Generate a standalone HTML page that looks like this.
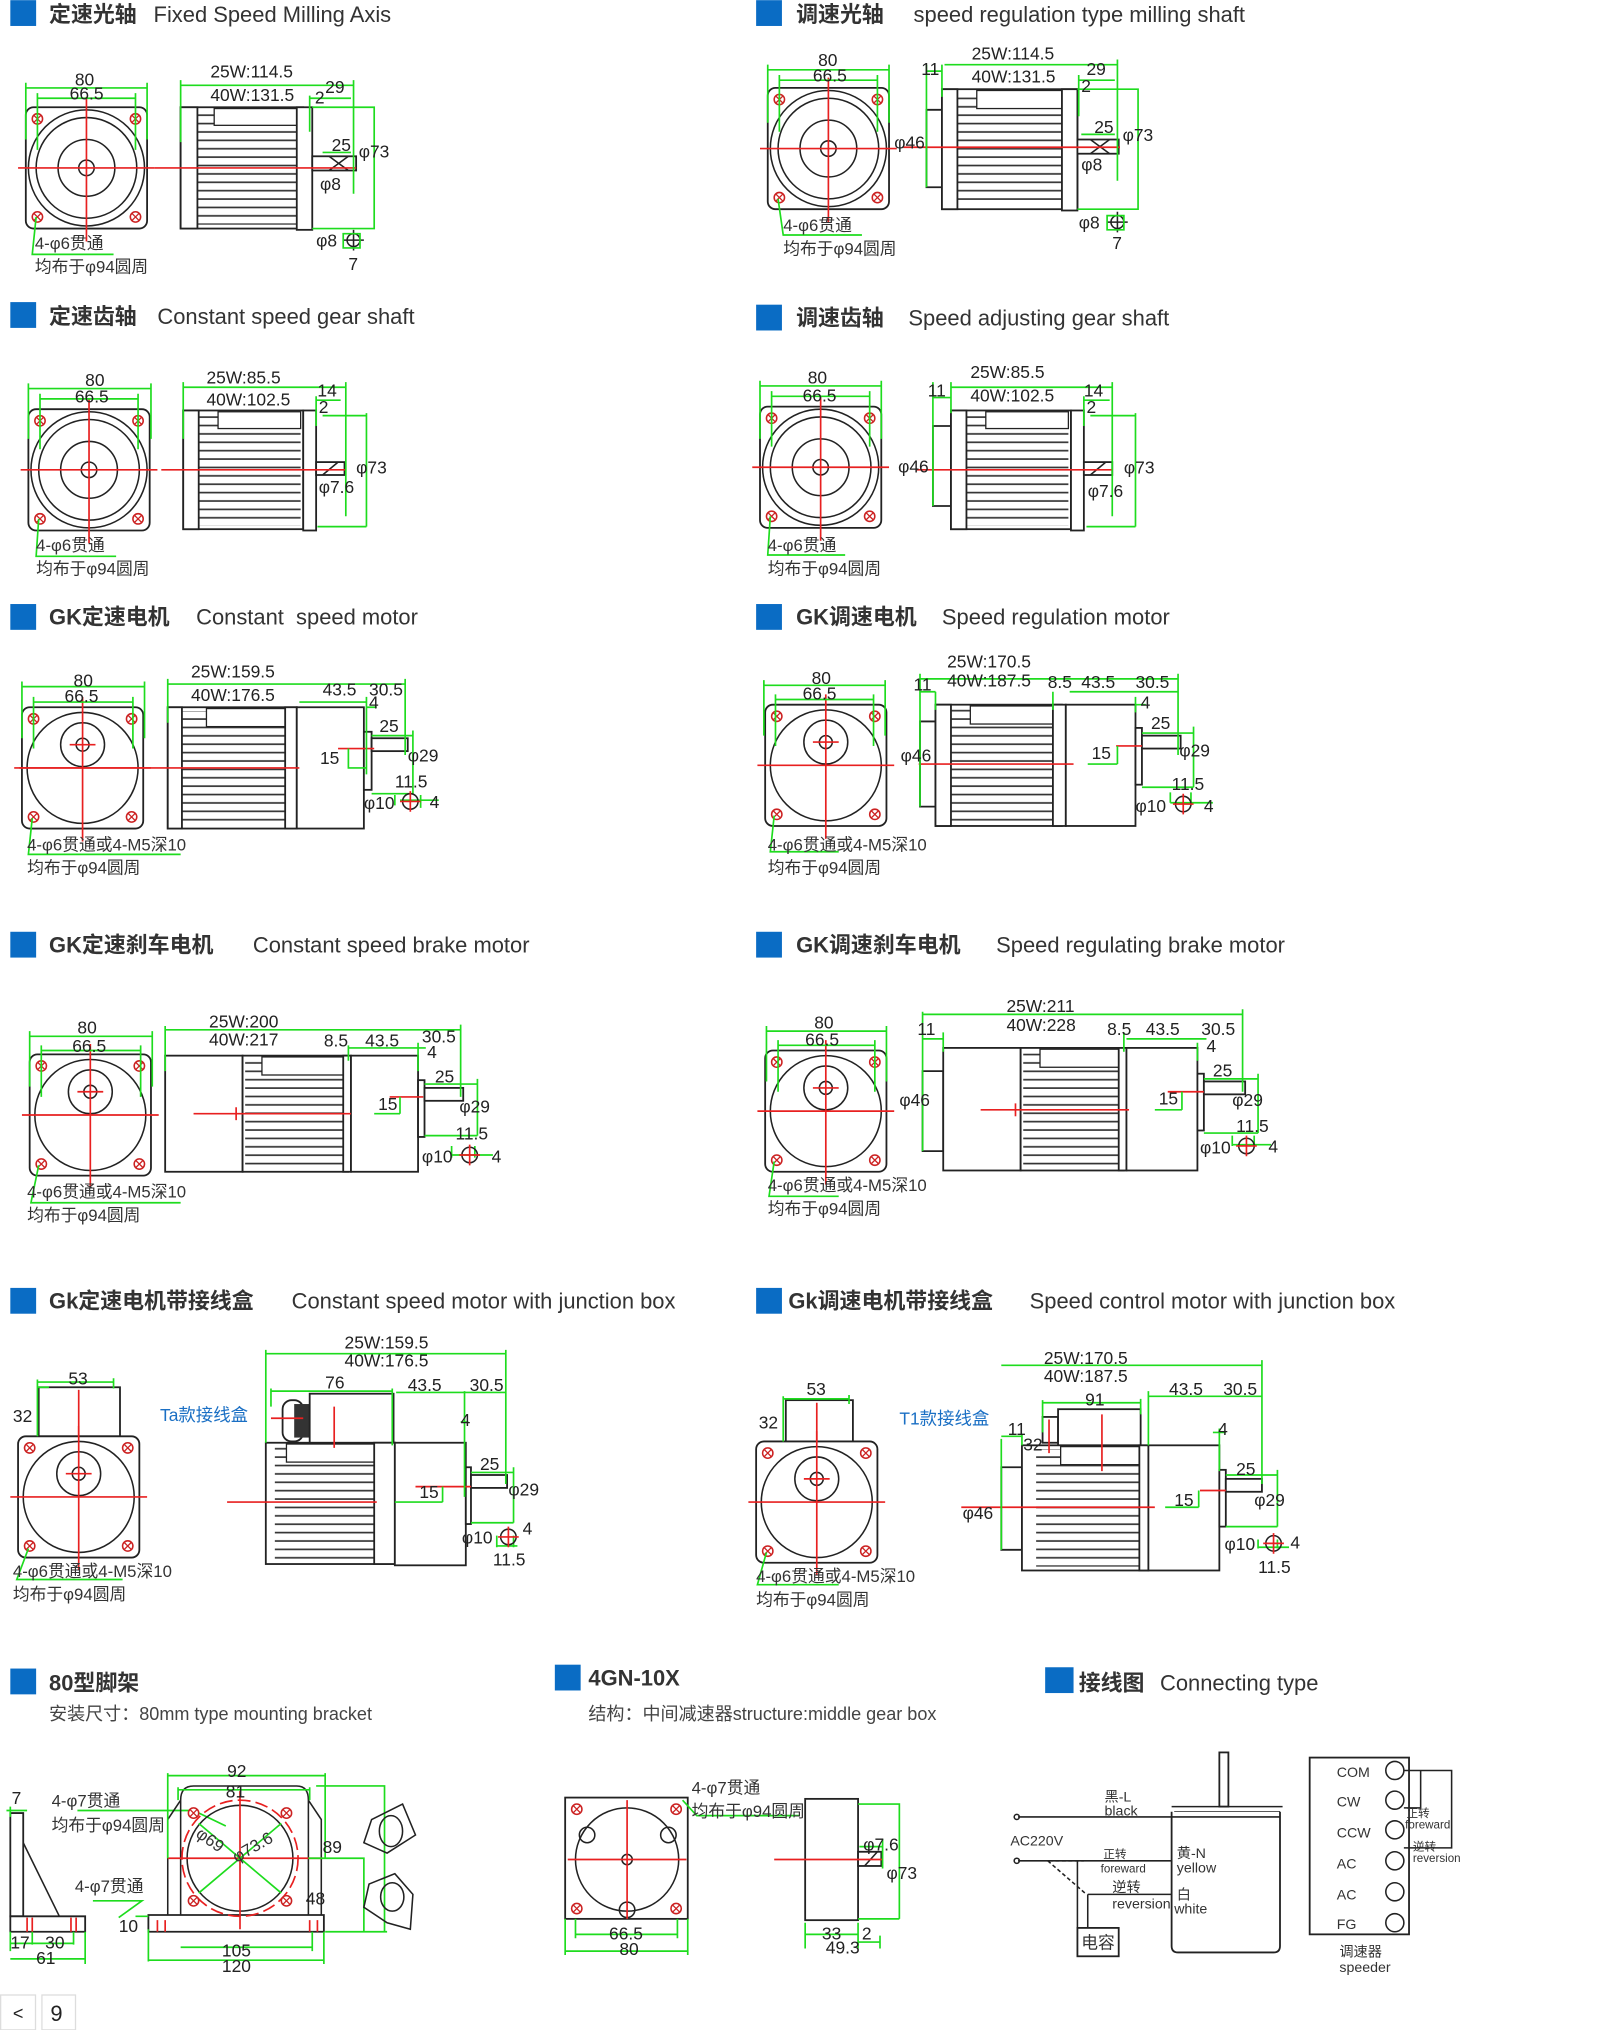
<!DOCTYPE html>
<html><head><meta charset="utf-8">
<style>
html,body{margin:0;padding:0;background:#fff;}
svg{display:block}
text{font-family:"Liberation Sans","Noto Sans CJK SC",sans-serif;fill:#222}
.t{font-size:17px;font-weight:bold;fill:#333}
.e{font-size:17px;fill:#333}
.s{font-size:14px;fill:#444}
.d{font-size:13.5px;fill:#222}
.n{font-size:13px;fill:#333}
.w{font-size:11px;fill:#333}
.g{stroke:#1edc1e;stroke-width:1.3;fill:none}
.r{stroke:#e82020;stroke-width:1.3;fill:none}
.k{stroke:#222;stroke-width:1.4;fill:#fff}
.kn{stroke:#222;stroke-width:1.2;fill:none}
</style></head><body>
<svg width="1600" height="2030" viewBox="0 0 1240 1573" xmlns="http://www.w3.org/2000/svg">
<defs>
<pattern id="fin" width="8" height="6.5" patternUnits="userSpaceOnUse"><rect width="8" height="6.5" fill="#fff"/><rect y="4" width="8" height="1.3" fill="#333"/></pattern>
<g id="hole"><circle r="4" fill="#fff" stroke="#c22" stroke-width="1.2"/><path d="M-2.5-2.5L2.5 2.5M2.5-2.5L-2.5 2.5" stroke="#c22" stroke-width="1"/></g>
<g id="front">
<rect x="-47" y="-47" width="94" height="94" rx="6" class="k"/>
<circle r="45" class="kn"/><circle r="39" class="kn"/><circle r="22" class="kn"/><circle r="6" class="kn"/>
<use href="#hole" x="-38" y="-38"/><use href="#hole" x="38" y="-38"/><use href="#hole" x="-38" y="38"/><use href="#hole" x="38" y="38"/>
<path d="M-53 0H53M0-55V57" class="r"/>
</g>
<g id="frontgk">
<rect x="-47" y="-47" width="94" height="94" rx="6" class="k"/>
<circle r="43" class="kn"/><circle cy="-18" r="17" class="kn"/><circle cy="-18" r="5" class="kn"/>
<use href="#hole" x="-38" y="-38"/><use href="#hole" x="38" y="-38"/><use href="#hole" x="-38" y="38"/><use href="#hole" x="38" y="38"/>
<path d="M-53 0H53M-10-18H10M0-55V57" class="r"/>
</g>
</defs>

<!-- ===== Row 1 ===== -->
<rect x="8" y="0" width="20" height="20" fill="#0a6cc4"/>
<text x="38" y="17" class="t">定速光轴</text><text x="119" y="17" class="e" font-weight="normal">Fixed Speed Milling Axis</text>
<use href="#front" x="67" y="130"/>
<path d="M20 68H114M20 64V108M114 64V108M29 76H105M29 72V116M105 72V116" class="g"/>
<text x="58" y="66" class="d">80</text><text x="54" y="77" class="d">66.5</text>
<path d="M28 168L25 197H88" class="g"/>
<text x="27" y="193" class="n">4-φ6贯通</text><text x="27" y="211" class="n">均布于φ94圆周</text>
<rect x="140" y="83" width="95" height="94" class="k"/>
<rect x="152" y="86" width="80" height="88" fill="url(#fin)"/>
<rect x="166" y="84" width="66" height="13" fill="#fff" stroke="#222"/>
<rect x="140" y="83" width="13" height="94" class="k"/>
<rect x="230" y="83" width="12" height="95" class="k"/>
<rect x="242" y="121" width="34" height="11" class="k"/>
<path d="M255 121L270 132M255 132L270 121" class="kn"/>
<path d="M120 130H276" class="r"/>
<path d="M140 62V110M140 66H274M274 62V150M240 76H272M240 74V102M250 118H272M286 83H290V177H286M242 83H290M242 177H290" class="g"/>
<text x="163" y="60" class="d">25W:114.5</text><text x="163" y="78" class="d">40W:131.5</text>
<text x="252" y="72" class="d">29</text><text x="244" y="80" class="d">2</text><text x="257" y="117" class="d">25</text><text x="278" y="122" class="d">φ73</text><text x="248" y="147" class="d">φ8</text>
<circle cx="274" cy="186" r="5" class="kn"/><path d="M266 186H282M274 178V194" class="kn"/><path d="M266 181H279V192H266Z" class="g"/>
<text x="245" y="191" class="d">φ8</text><text x="270" y="209" class="d">7</text>

<rect x="586" y="0" width="20" height="20" fill="#0a6cc4"/>
<text x="617" y="17" class="t">调速光轴</text><text x="708" y="17" class="e">speed regulation type milling shaft</text>
<use href="#front" x="642" y="115"/>
<path d="M595 54H689M595 50V95M689 50V95M604 62H680M604 58V102M680 58V102" class="g"/>
<text x="634" y="51" class="d">80</text><text x="630" y="63" class="d">66.5</text>
<path d="M603 154L607 182H668" class="g"/>
<text x="607" y="179" class="n">4-φ6贯通</text><text x="607" y="197" class="n">均布于φ94圆周</text>
<path d="M718 85H730V145H718Z" class="k"/>
<rect x="730" y="69" width="105" height="93" class="k"/>
<rect x="742" y="72" width="82" height="87" fill="url(#fin)"/>
<rect x="757" y="70" width="66" height="14" fill="#fff" stroke="#222"/>
<rect x="730" y="69" width="12" height="93" class="k"/>
<rect x="823" y="69" width="12" height="94" class="k"/>
<rect x="835" y="108" width="32" height="11" class="k"/>
<path d="M845 108L860 119M845 119L860 108" class="kn"/>
<path d="M700 114H868" class="r"/>
<path d="M718 50V145M730 50V75M718 55H730M732 50H866M866 46V140M836 62H864M836 58V90M838 104H864M878 69H882V162H878M835 69H882M835 162H882" class="g"/>
<text x="753" y="46" class="d">25W:114.5</text><text x="753" y="64" class="d">40W:131.5</text><text x="714" y="58" class="d">11</text>
<text x="842" y="58" class="d">29</text><text x="838" y="71" class="d">2</text><text x="848" y="103" class="d">25</text><text x="870" y="109" class="d">φ73</text><text x="838" y="132" class="d">φ8</text><text x="693" y="115" class="d">φ46</text>
<circle cx="866" cy="172" r="5" class="kn"/><path d="M858 172H874M866 164V180" class="kn"/><path d="M858 167H871V178H858Z" class="g"/>
<text x="836" y="177" class="d">φ8</text><text x="862" y="193" class="d">7</text>

<!-- ===== Row 2 ===== -->
<rect x="8" y="234" width="20" height="20" fill="#0a6cc4"/>
<text x="38" y="251" class="t">定速齿轴</text><text x="122" y="251" class="e">Constant speed gear shaft</text>
<use href="#front" x="69" y="364"/>
<path d="M22 301H117M22 297V340M117 297V340M31 309H107M31 305V348M107 305V348" class="g"/>
<text x="66" y="299" class="d">80</text><text x="58" y="312" class="d">66.5</text>
<path d="M30 402L28 431H90" class="g"/>
<text x="28" y="427" class="n">4-φ6贯通</text><text x="28" y="445" class="n">均布于φ94圆周</text>
<rect x="142" y="318" width="93" height="92" class="k"/>
<rect x="154" y="321" width="79" height="86" fill="url(#fin)"/>
<rect x="169" y="319" width="64" height="13" fill="#fff" stroke="#222"/>
<rect x="142" y="318" width="12" height="92" class="k"/>
<rect x="235" y="318" width="10" height="93" class="k"/>
<rect x="245" y="358" width="22" height="10" class="k"/><path d="M250 368L262 358" class="kn"/>
<path d="M125 364H268" class="r"/>
<path d="M142 296V340M142 300H268M268 296V400M245 310H264M245 307V330M250 322H284M284 320V408M246 408H284" class="g"/>
<text x="160" y="297" class="d">25W:85.5</text><text x="160" y="314" class="d">40W:102.5</text>
<text x="246" y="307" class="d">14</text><text x="247" y="320" class="d">2</text><text x="276" y="367" class="d">φ73</text><text x="247" y="382" class="d">φ7.6</text>

<rect x="586" y="236" width="20" height="20" fill="#0a6cc4"/>
<text x="617" y="252" class="t">调速齿轴</text><text x="704" y="252" class="e">Speed adjusting gear shaft</text>
<use href="#front" x="636" y="362"/>
<path d="M589 299H683M589 295V340M683 295V340M598 307H674M598 303V346M674 303V346" class="g"/>
<text x="626" y="297" class="d">80</text><text x="622" y="311" class="d">66.5</text>
<path d="M597 400L595 430H655" class="g"/>
<text x="595" y="427" class="n">4-φ6贯通</text><text x="595" y="445" class="n">均布于φ94圆周</text>
<path d="M723 330H737V392H723Z" class="k"/>
<rect x="737" y="318" width="93" height="92" class="k"/>
<rect x="749" y="321" width="79" height="86" fill="url(#fin)"/>
<rect x="764" y="319" width="64" height="13" fill="#fff" stroke="#222"/>
<rect x="737" y="318" width="12" height="92" class="k"/>
<rect x="830" y="318" width="10" height="93" class="k"/>
<rect x="840" y="358" width="22" height="10" class="k"/><path d="M845 368L857 358" class="kn"/>
<path d="M710 364H862" class="r"/>
<path d="M723 296V392M737 296V320M723 308H737M737 300H862M862 296V400M840 310H860M840 307V330M845 322H880M880 320V408M842 408H880" class="g"/>
<text x="752" y="293" class="d">25W:85.5</text><text x="752" y="311" class="d">40W:102.5</text><text x="719" y="307" class="d">11</text>
<text x="840" y="307" class="d">14</text><text x="842" y="320" class="d">2</text><text x="871" y="367" class="d">φ73</text><text x="843" y="385" class="d">φ7.6</text><text x="696" y="366" class="d">φ46</text>

<!-- ===== Row 3 ===== -->
<rect x="8" y="468" width="20" height="20" fill="#0a6cc4"/>
<text x="38" y="484" class="t">GK定速电机</text><text x="152" y="484" class="e">Constant&#160; speed motor</text>
<use href="#frontgk" x="64" y="595"/>
<path d="M17 532H112M17 528V572M112 528V572M26 544H103M26 540V580M103 540V580" class="g"/>
<text x="57" y="532" class="d">80</text><text x="50" y="544" class="d">66.5</text>
<path d="M25 634L22 662H140" class="g"/>
<text x="21" y="659" class="n">4-φ6贯通或4-M5深10</text><text x="21" y="677" class="n">均布于φ94圆周</text>
<rect x="130" y="548" width="100" height="94" class="k"/>
<rect x="141" y="551" width="80" height="88" fill="url(#fin)"/>
<rect x="160" y="549" width="61" height="14" fill="#fff" stroke="#222"/>
<rect x="130" y="548" width="11" height="94" class="k"/>
<rect x="221" y="548" width="9" height="94" class="k"/>
<rect x="230" y="548" width="52" height="94" class="k"/>
<rect x="282" y="567" width="6" height="45" class="k"/>
<rect x="288" y="572" width="28" height="10" class="k"/>
<path d="M15 595H232M262 580H290" class="r"/>
<path d="M130 526V560M130 530H314M314 526V585M232 544H284M284 540V600M284 548H292M288 570H320M320 566V615M284 595H270V580M288 615H320M306 616V624M326 616V626M310 620H340" class="g"/>
<text x="148" y="525" class="d">25W:159.5</text><text x="148" y="543" class="d">40W:176.5</text><text x="250" y="539" class="d">43.5</text><text x="286" y="539" class="d">30.5</text>
<text x="286" y="549" class="d">4</text><text x="294" y="567" class="d">25</text><text x="316" y="590" class="d">φ29</text><text x="248" y="592" class="d">15</text>
<text x="306" y="610" class="d">11.5</text><text x="282" y="627" class="d">φ10</text><text x="333" y="626" class="d">4</text>
<circle cx="318" cy="621" r="6" class="kn"/><path d="M310 621H326M318 613V629" class="r"/>

<rect x="586" y="468" width="20" height="20" fill="#0a6cc4"/>
<text x="617" y="484" class="t">GK调速电机</text><text x="730" y="484" class="e">Speed regulation motor</text>
<use href="#frontgk" x="640" y="593"/>
<path d="M592 531H686M592 527V570M686 527V570M601 542H677M601 538V578M677 538V578" class="g"/>
<text x="629" y="530" class="d">80</text><text x="622" y="542" class="d">66.5</text>
<path d="M600 632L597 660H650" class="g"/>
<text x="595" y="659" class="n">4-φ6贯通或4-M5深10</text><text x="595" y="677" class="n">均布于φ94圆周</text>
<path d="M713 559H725V625H713Z" class="k"/>
<rect x="725" y="546" width="98" height="94" class="k"/>
<rect x="737" y="549" width="79" height="88" fill="url(#fin)"/>
<rect x="752" y="547" width="64" height="14" fill="#fff" stroke="#222"/>
<rect x="725" y="546" width="12" height="94" class="k"/>
<rect x="816" y="546" width="10" height="94" class="k"/>
<rect x="826" y="546" width="54" height="94" class="k"/>
<rect x="880" y="564" width="5" height="44" class="k"/>
<rect x="885" y="570" width="30" height="10" class="k"/>
<path d="M712 592H832M865 578H885" class="r"/>
<path d="M713 522V625M713 526H913M913 522V585M725 536V550M713 536H725M816 536V550M829 536H913M880 540V552M880 546H888M885 568H925M925 563V610M885 610H925M866 592H843M866 592V578M907 614V622M923 614V624M907 622H940" class="g"/>
<text x="734" y="517" class="d">25W:170.5</text><text x="734" y="532" class="d">40W:187.5</text><text x="708" y="535" class="d">11</text>
<text x="812" y="533" class="d">8.5</text><text x="838" y="533" class="d">43.5</text><text x="880" y="533" class="d">30.5</text>
<text x="884" y="549" class="d">4</text><text x="892" y="565" class="d">25</text><text x="914" y="586" class="d">φ29</text><text x="846" y="588" class="d">15</text><text x="698" y="590" class="d">φ46</text>
<text x="908" y="612" class="d">11.5</text><text x="880" y="629" class="d">φ10</text><text x="933" y="629" class="d">4</text>
<circle cx="917" cy="623" r="6" class="kn"/><path d="M909 623H925M917 615V631" class="r"/>

<!-- ===== Row 4 ===== -->
<rect x="8" y="722" width="20" height="20" fill="#0a6cc4"/>
<text x="38" y="738" class="t">GK定速刹车电机</text><text x="196" y="738" class="e">Constant speed brake motor</text>
<use href="#frontgk" x="70" y="864"/>
<path d="M23 803H118M23 799V842M118 799V842M32 814H109M32 810V850M109 810V850" class="g"/>
<text x="60" y="801" class="d">80</text><text x="56" y="815" class="d">66.5</text>
<path d="M30 903L24 932H140" class="g"/>
<text x="21" y="928" class="n">4-φ6贯通或4-M5深10</text><text x="21" y="946" class="n">均布于φ94圆周</text>
<rect x="128" y="818" width="60" height="90" class="k"/>
<rect x="188" y="818" width="82" height="90" class="k"/>
<rect x="190" y="821" width="76" height="84" fill="url(#fin)"/>
<rect x="203" y="819" width="63" height="14" fill="#fff" stroke="#222"/>
<rect x="266" y="818" width="6" height="90" class="k"/>
<rect x="272" y="818" width="52" height="90" class="k"/>
<rect x="324" y="837" width="5" height="44" class="k"/>
<rect x="329" y="843" width="30" height="10" class="k"/>
<path d="M150 863H272M302 850H328" class="r"/><path d="M183 858V868" class="r"/>
<path d="M128 795V830M128 798H357M357 794V850M270 810V822M270 812H330M324 808V830M329 840H370M370 836V880M329 880H370M310 863V850M310 863H290M350 888V897M368 888V897M350 895H382" class="g"/>
<text x="162" y="796" class="d">25W:200</text><text x="162" y="810" class="d">40W:217</text>
<text x="251" y="811" class="d">8.5</text><text x="283" y="811" class="d">43.5</text><text x="327" y="808" class="d">30.5</text>
<text x="331" y="820" class="d">4</text><text x="337" y="839" class="d">25</text><text x="356" y="862" class="d">φ29</text><text x="293" y="860" class="d">15</text>
<text x="353" y="883" class="d">11.5</text><text x="327" y="901" class="d">φ10</text><text x="381" y="901" class="d">4</text>
<circle cx="364" cy="895" r="6" class="kn"/><path d="M356 895H372M364 887V903" class="r"/>

<rect x="586" y="722" width="20" height="20" fill="#0a6cc4"/>
<text x="617" y="738" class="t">GK调速刹车电机</text><text x="772" y="738" class="e">Speed regulating brake motor</text>
<use href="#frontgk" x="640" y="861"/>
<path d="M594 799H687M594 795V838M687 795V838M603 810H678M603 806V846M678 806V846" class="g"/>
<text x="631" y="797" class="d">80</text><text x="624" y="810" class="d">66.5</text>
<path d="M600 900L596 927H650" class="g"/>
<text x="595" y="923" class="n">4-φ6贯通或4-M5深10</text><text x="595" y="941" class="n">均布于φ94圆周</text>
<path d="M715 830H731V892H715Z" class="k"/>
<rect x="731" y="812" width="60" height="95" class="k"/>
<rect x="791" y="812" width="80" height="95" class="k"/>
<rect x="793" y="815" width="74" height="89" fill="url(#fin)"/>
<rect x="806" y="813" width="61" height="14" fill="#fff" stroke="#222"/>
<rect x="867" y="812" width="6" height="95" class="k"/>
<rect x="873" y="812" width="55" height="95" class="k"/>
<rect x="928" y="832" width="5" height="44" class="k"/>
<rect x="933" y="838" width="32" height="10" class="k"/>
<path d="M760 860H875M905 846H933" class="r"/><path d="M787 855V865" class="r"/>
<path d="M715 784V892M715 786H963M963 782V846M731 800V815M715 805H731M871 800V815M873 805H935M928 808V822M933 836H975M975 832V878M933 878H975M916 860V846M916 860H895M955 880V888M972 880V888M955 887H985" class="g"/>
<text x="780" y="784" class="d">25W:211</text><text x="780" y="799" class="d">40W:228</text><text x="711" y="802" class="d">11</text>
<text x="858" y="802" class="d">8.5</text><text x="888" y="802" class="d">43.5</text><text x="931" y="802" class="d">30.5</text>
<text x="935" y="815" class="d">4</text><text x="940" y="834" class="d">25</text><text x="955" y="857" class="d">φ29</text><text x="898" y="856" class="d">15</text><text x="697" y="857" class="d">φ46</text>
<text x="958" y="877" class="d">11.5</text><text x="930" y="894" class="d">φ10</text><text x="983" y="893" class="d">4</text>
<circle cx="966" cy="888" r="6" class="kn"/><path d="M958 888H974M966 880V896" class="r"/>

<!-- ===== Row 5 ===== -->
<rect x="8" y="998" width="20" height="20" fill="#0a6cc4"/>
<text x="38" y="1014" class="t">Gk定速电机带接线盒</text><text x="226" y="1014" class="e">Constant speed motor with junction box</text>
<rect x="30" y="1075" width="63" height="38" class="k"/>
<use href="#frontgk" x="61" y="1160"/>
<path d="M29 1069V1113M29 1071H88M88 1068V1076M29 1075H38" class="g"/>
<text x="53" y="1073" class="d">53</text><text x="10" y="1102" class="d">32</text>
<text x="124" y="1101" style="font-size:13.5px;fill:#1a6fc4">Ta款接线盒</text>
<path d="M22 1200L13 1224H95" class="g"/><path d="M61 1077V1113" class="r"/>
<text x="10" y="1222" class="n">4-φ6贯通或4-M5深10</text><text x="10" y="1240" class="n">均布于φ94圆周</text>
<rect x="219" y="1085" width="16" height="32" rx="7" class="k"/>
<rect x="228" y="1088" width="12" height="26" fill="#333"/>
<rect x="240" y="1080" width="65" height="39" class="k"/>
<rect x="206" y="1118" width="100" height="94" class="k"/>
<rect x="213" y="1121" width="77" height="88" fill="url(#fin)"/>
<rect x="222" y="1119" width="68" height="14" fill="#fff" stroke="#222"/>
<rect x="290" y="1118" width="16" height="94" class="k"/>
<rect x="306" y="1118" width="55" height="95" class="k"/>
<rect x="361" y="1137" width="4" height="44" class="k"/>
<rect x="365" y="1143" width="28" height="10" class="k"/>
<path d="M176 1164H292M210 1099H235M259 1090V1122M322 1152H365" class="r"/>
<path d="M206 1046V1118M206 1049H392M392 1046V1150M210 1078H304M210 1076V1090M304 1076V1120M307 1079H392M360 1078V1160M357 1102H363M365 1141H398M398 1137V1180M365 1180H398M343 1164V1152M343 1164H306M385 1190V1199M398 1190V1199M385 1198H401" class="g"/>
<text x="267" y="1045" class="d">25W:159.5</text><text x="267" y="1059" class="d">40W:176.5</text><text x="252" y="1076" class="d">76</text>
<text x="316" y="1078" class="d">43.5</text><text x="364" y="1078" class="d">30.5</text><text x="357" y="1105" class="d">4</text><text x="372" y="1139" class="d">25</text><text x="394" y="1159" class="d">φ29</text><text x="325" y="1161" class="d">15</text>
<text x="358" y="1196" class="d">φ10</text><text x="405" y="1189" class="d">4</text><text x="382" y="1213" class="d">11.5</text>
<circle cx="394" cy="1191" r="6" class="kn"/><path d="M386 1191H402M394 1183V1199" class="r"/>

<rect x="586" y="998" width="20" height="20" fill="#0a6cc4"/>
<text x="611" y="1014" class="t">Gk调速电机带接线盒</text><text x="798" y="1014" class="e">Speed control motor with junction box</text>
<rect x="609" y="1085" width="52" height="32" class="k"/>
<use href="#frontgk" x="633" y="1164"/>
<path d="M607 1082V1117M607 1084H658M658 1081V1088" class="g"/>
<text x="625" y="1081" class="d">53</text><text x="588" y="1107" class="d">32</text>
<text x="697" y="1104" style="font-size:13.5px;fill:#1a6fc4">T1款接线盒</text>
<path d="M594 1203L587 1228H650" class="g"/><path d="M633 1087V1117" class="r"/>
<text x="586" y="1226" class="n">4-φ6贯通或4-M5深10</text><text x="586" y="1244" class="n">均布于φ94圆周</text>
<path d="M776 1137H792V1201H776Z" class="k"/>
<rect x="808" y="1098" width="12" height="20" class="k"/>
<rect x="820" y="1092" width="64" height="28" class="k"/>
<rect x="792" y="1120" width="98" height="97" class="k"/>
<rect x="803" y="1123" width="80" height="91" fill="url(#fin)"/>
<rect x="822" y="1121" width="61" height="14" fill="#fff" stroke="#222"/>
<rect x="883" y="1120" width="7" height="97" class="k"/>
<rect x="890" y="1120" width="55" height="97" class="k"/>
<rect x="945" y="1139" width="5" height="44" class="k"/>
<rect x="950" y="1146" width="28" height="10" class="k"/>
<path d="M745 1168H895M930 1155H950M813 1100V1126M854 1096V1140" class="r"/>
<path d="M776 1115V1201M776 1058H978M978 1054V1150M792 1111V1120M776 1113H792M808 1087H884M884 1084V1096M808 1085V1110M890 1082H978M890 1078V1120M945 1107V1140M940 1110H950M950 1143H990M990 1139V1183M950 1183H990M929 1168V1155M929 1168H903M975 1193V1200M990 1193V1200M975 1199H999" class="g"/>
<text x="809" y="1057" class="d">25W:170.5</text><text x="809" y="1071" class="d">40W:187.5</text><text x="841" y="1089" class="d">91</text>
<text x="906" y="1081" class="d">43.5</text><text x="948" y="1081" class="d">30.5</text><text x="944" y="1112" class="d">4</text><text x="958" y="1143" class="d">25</text><text x="972" y="1167" class="d">φ29</text><text x="910" y="1167" class="d">15</text>
<text x="781" y="1112" class="d">11</text><text x="793" y="1124" class="d">32</text><text x="746" y="1177" class="d">φ46</text>
<text x="949" y="1201" class="d">φ10</text><text x="1000" y="1200" class="d">4</text><text x="975" y="1219" class="d">11.5</text>
<circle cx="987" cy="1196" r="6" class="kn"/><path d="M979 1196H995M987 1188V1204" class="r"/>

<!-- ===== Row 6 ===== -->
<rect x="8" y="1293" width="20" height="20" fill="#0a6cc4"/>
<text x="38" y="1310" class="t">80型脚架</text>
<text x="38" y="1333" class="s">安装尺寸：80mm type mounting bracket</text>
<path d="M8 1405H18V1485H8Z" class="k"/><path d="M18 1428L46 1485" class="kn"/>
<path d="M8 1485H66V1497H8Z" class="k"/>
<path d="M21 1486V1497M25 1486V1497M55 1486V1497M59 1486V1497" class="r"/>
<path d="M5 1403H21M8 1400V1408M8 1497V1512M25 1497V1507M57 1497V1507M8 1506H57M8 1518H66M66 1497V1522" class="g"/>
<text x="9" y="1398" class="d">7</text><text x="8" y="1510" class="d">17</text><text x="35" y="1510" class="d">30</text><text x="28" y="1522" class="d">61</text>
<path d="M60 1403H150L175 1415M72 1473H110L92 1486" class="g"/>
<text x="40" y="1400" class="n">4-φ7贯通</text><text x="40" y="1419" class="n">均布于φ94圆周</text><text x="58" y="1466" class="n">4-φ7贯通</text>
<path d="M140 1485V1395Q140 1384 150 1384H230Q239 1384 239 1395V1485M130 1485V1410L140 1395M249 1485V1410L239 1395" class="kn"/>
<path d="M115 1484H251V1497H115Z" class="k"/>
<circle cx="186" cy="1440" r="45" class="r" stroke-dasharray="10 4"/>
<circle cx="186" cy="1440" r="41" class="kn"/>
<use href="#hole" x="150" y="1405"/><use href="#hole" x="222" y="1405"/><use href="#hole" x="150" y="1473"/><use href="#hole" x="222" y="1473"/>
<path d="M130 1440H250M186 1388V1495M122 1488V1497M128 1488V1497M240 1488V1497M246 1488V1497" class="r"/>
<path d="M154 1413L218 1467M154 1467L218 1413M130 1374V1440M252 1374V1440M130 1376H252M138 1385V1395M240 1385V1395M138 1387H240M245 1384H298V1497M298 1384V1497M239 1440H282V1497M252 1497H300M115 1485H105M115 1495V1520M242 1497V1512M140 1509H242M115 1519H251M251 1497V1522" class="g"/>
<text x="176" y="1377" class="d">92</text><text x="175" y="1393" class="d">81</text><text x="250" y="1436" class="d">89</text><text x="237" y="1476" class="d">48</text><text x="92" y="1497" class="d">10</text>
<text x="172" y="1516" class="d">105</text><text x="172" y="1528" class="d">120</text>
<text x="150" y="1430" class="n" transform="rotate(35 162 1428)">φ69</text><text x="178" y="1436" class="n" transform="rotate(-30 195 1430)">φ73.6</text>
<path d="M288 1410L312 1398L322 1422L300 1436L282 1428Z" class="kn"/><ellipse cx="303" cy="1419" rx="9" ry="12" class="kn"/>
<path d="M286 1460L306 1452L320 1468L318 1495L300 1490L282 1478Z" class="kn"/><ellipse cx="304" cy="1470" rx="9" ry="11" class="kn"/>

<rect x="430" y="1290" width="20" height="20" fill="#0a6cc4"/>
<text x="456" y="1306" class="t">4GN-10X</text>
<text x="456" y="1333" class="s">结构：中间减速器structure:middle gear box</text>
<rect x="438" y="1393" width="95" height="94" class="k"/>
<circle cx="486" cy="1441" r="40" class="kn"/>
<use href="#hole" x="447" y="1402"/><use href="#hole" x="524" y="1402"/><use href="#hole" x="447" y="1479"/><use href="#hole" x="524" y="1479"/>
<circle cx="455" cy="1422" r="6" class="kn"/><circle cx="518" cy="1422" r="6" class="kn"/><circle cx="486" cy="1480" r="6" class="kn"/><circle cx="486" cy="1441" r="4" class="kn"/>
<path d="M440 1441H532M486 1395V1487" class="r"/>
<path d="M438 1487V1515M533 1487V1515M438 1512H533M446 1487V1502M525 1487V1502M446 1499H525M529 1395L540 1407H620" class="g"/>
<text x="536" y="1390" class="n">4-φ7贯通</text><text x="536" y="1408" class="n">均布于φ94圆周</text>
<text x="472" y="1503" class="d">66.5</text><text x="480" y="1515" class="d">80</text>
<rect x="624" y="1394" width="41" height="94" class="k"/>
<rect x="665" y="1435" width="18" height="11" class="k"/><path d="M670 1446L680 1435" class="kn"/>
<path d="M600 1441H684" class="r"/>
<path d="M665 1398H697V1487M697 1398V1487M665 1487H697M666 1431H684M684 1425V1448M624 1490V1510M665 1490V1510M624 1499H665M665 1505H682M682 1500V1510" class="g"/>
<text x="669" y="1434" class="d">φ7.6</text><text x="687" y="1456" class="d">φ73</text><text x="637" y="1503" class="d">33</text><text x="668" y="1503" class="d">2</text><text x="640" y="1514" class="d">49.3</text>

<rect x="810" y="1292" width="22" height="20" fill="#0a6cc4"/>
<text x="836" y="1310" class="t">接线图</text><text x="899" y="1310" class="e">Connecting type</text>
<rect x="945" y="1358" width="7" height="42" class="k"/>
<path d="M908 1400H994M910 1404H992" class="kn" stroke-width="2"/>
<path d="M908 1404V1508Q908 1513 913 1513H987Q992 1513 992 1508V1404" class="k"/>
<path d="M789 1408H992M789 1442H908M813 1442H836M835 1442V1494M843 1468H908M843 1468V1494" class="kn"/>
<circle cx="788" cy="1408" r="2" class="kn"/><circle cx="788" cy="1442" r="2" class="kn"/>
<path d="M812 1442L842 1468M813 1442H840" class="kn" stroke-dasharray="3 2"/>
<rect x="835" y="1494" width="32" height="22" class="k"/>
<text x="838" y="1510" class="n">电容</text>
<text x="856" y="1396" class="w">黑-L</text><text x="856" y="1407" class="w">black</text>
<text x="783" y="1430" class="w">AC220V</text>
<text x="855" y="1440" class="w" style="font-size:9px">正转</text><text x="853" y="1451" class="w" style="font-size:9px">foreward</text>
<text x="862" y="1466" class="w">逆转</text><text x="862" y="1479" class="w">reversion</text>
<text x="912" y="1440" class="w">黄-N</text><text x="912" y="1451" class="w">yellow</text>
<text x="912" y="1472" class="w">白</text><text x="910" y="1483" class="w">white</text>
<rect x="1015" y="1362" width="77" height="137" class="k"/>
<text x="1036" y="1377" class="w">COM</text><text x="1036" y="1400" class="w">CW</text><text x="1036" y="1424" class="w">CCW</text><text x="1036" y="1448" class="w">AC</text><text x="1036" y="1472" class="w">AC</text><text x="1036" y="1495" class="w">FG</text>
<circle cx="1081" cy="1372" r="7" class="kn"/><circle cx="1081" cy="1395" r="7" class="kn"/><circle cx="1081" cy="1418" r="7" class="kn"/><circle cx="1081" cy="1442" r="7" class="kn"/><circle cx="1081" cy="1466" r="7" class="kn"/><circle cx="1081" cy="1490" r="7" class="kn"/>
<path d="M1088 1372H1125V1432H1088M1101 1372V1401H1088" class="kn"/>
<text x="1090" y="1408" class="w" style="font-size:9px">正转</text><text x="1089" y="1417" class="w" style="font-size:9px">foreward</text>
<text x="1095" y="1434" class="w" style="font-size:9px">逆转</text><text x="1095" y="1443" class="w" style="font-size:9px">reversion</text>
<text x="1038" y="1516" class="w">调速器</text><text x="1038" y="1528" class="w">speeder</text>

<!-- pager -->
<rect x="0.5" y="1546" width="27" height="27" fill="#fff" stroke="#ddd"/>
<rect x="32.5" y="1546" width="26" height="27" fill="#fff" stroke="#ddd"/>
<text x="10" y="1565" style="font-size:14px">&lt;</text><text x="39" y="1566" style="font-size:17px">9</text>
</svg>
</body></html>
